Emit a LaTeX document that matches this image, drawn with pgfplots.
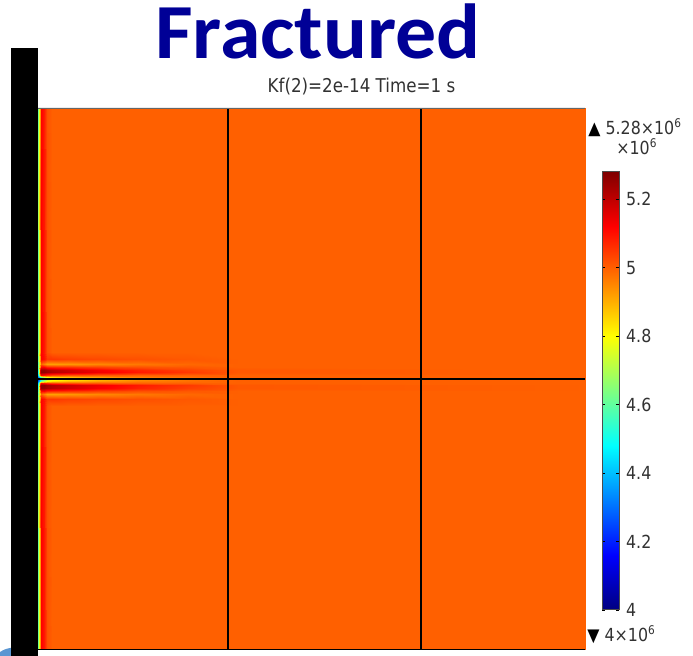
\documentclass[border=0pt]{standalone}
\usepackage{pgfplots}
\pgfplotsset{compat=1.18}
\usepackage{pgfplotstable}
\usepackage{fontspec}
\setmainfont{DejaVu Sans}
\newfontfamily\lblfont{DejaVu Sans}[FakeStretch=0.88]
\newfontfamily\titlefont{Carlito}[FakeStretch=1.05]
\definecolor{titleblue}{RGB}{0,0,150}
\definecolor{lbl}{RGB}{50,50,50}
\begin{document}
\pgfplotstableread{
x y v
0 0.00 4.62
0.01 0.00 4.78
0.02 0.00 4.92
0.035 0.00 5.12
0.06 0.00 5.09
0.09 0.00 5.02
0.14 0.00 5.00
0.30 0.00 5.00
0.60 0.00 5.00
1.00 0.00 5.00
1.50 0.00 5.00
2.00 0.00 5.00
5.47 0.00 5.00
0 2.44 4.62
0.01 2.44 4.78
0.02 2.44 4.92
0.035 2.44 5.12
0.06 2.44 5.09
0.09 2.44 5.02
0.14 2.44 5.00
0.30 2.44 5.00
0.60 2.44 5.00
1.00 2.44 5.00
1.50 2.44 5.00
2.00 2.44 5.00
5.47 2.44 5.00
0 2.51 4.62
0.01 2.51 4.78
0.02 2.51 4.92
0.035 2.51 5.12
0.06 2.51 5.10
0.09 2.51 5.05
0.14 2.51 5.05
0.30 2.51 5.04
0.60 2.51 5.03
1.00 2.51 5.02
1.50 2.51 5.01
2.00 2.51 5.00
5.47 2.51 5.00
0 2.56 4.60
0.01 2.56 4.74
0.02 2.56 4.86
0.035 2.56 5.00
0.06 2.56 4.96
0.09 2.56 4.92
0.14 2.56 4.92
0.30 2.56 4.93
0.60 2.56 4.95
1.00 2.56 4.97
1.50 2.56 4.99
2.00 2.56 5.00
5.47 2.56 5.00
0 2.59 4.60
0.01 2.59 4.76
0.02 2.59 4.95
0.035 2.59 5.12
0.06 2.59 5.12
0.09 2.59 5.08
0.14 2.59 5.07
0.30 2.59 5.06
0.60 2.59 5.04
1.00 2.59 5.02
1.50 2.59 5.01
2.00 2.59 5.00
5.47 2.59 5.00
0 2.62 4.55
0.01 2.62 4.80
0.02 2.62 5.15
0.035 2.62 5.25
0.06 2.62 5.25
0.09 2.62 5.23
0.14 2.62 5.21
0.30 2.62 5.18
0.60 2.62 5.13
1.00 2.62 5.08
1.50 2.62 5.04
2.00 2.62 5.01
5.47 2.62 5.00
0 2.645 4.50
0.01 2.645 4.78
0.02 2.645 5.15
0.035 2.645 5.26
0.06 2.645 5.26
0.09 2.645 5.24
0.14 2.645 5.22
0.30 2.645 5.19
0.60 2.645 5.14
1.00 2.645 5.09
1.50 2.645 5.05
2.00 2.645 5.01
5.47 2.645 5.00
0 2.67 4.45
0.01 2.67 4.70
0.02 2.67 5.00
0.035 2.67 5.12
0.06 2.67 5.10
0.09 2.67 5.07
0.14 2.67 5.04
0.30 2.67 5.02
0.60 2.67 5.01
1.00 2.67 5.00
1.50 2.67 5.00
2.00 2.67 5.00
5.47 2.67 5.00
0 2.69 4.30
0.01 2.69 4.40
0.02 2.69 4.50
0.035 2.69 4.62
0.06 2.69 4.72
0.09 2.69 4.80
0.14 2.69 4.84
0.30 2.69 4.88
0.60 2.69 4.92
1.00 2.69 4.96
1.50 2.69 4.98
2.00 2.69 5.00
5.47 2.69 5.00
0 2.71 4.20
0.01 2.71 4.30
0.02 2.71 4.40
0.035 2.71 4.50
0.06 2.71 4.60
0.09 2.71 4.70
0.14 2.71 4.75
0.30 2.71 4.80
0.60 2.71 4.87
1.00 2.71 4.93
1.50 2.71 4.97
2.00 2.71 5.00
5.47 2.71 5.00
0 2.73 4.30
0.01 2.73 4.40
0.02 2.73 4.50
0.035 2.73 4.62
0.06 2.73 4.72
0.09 2.73 4.80
0.14 2.73 4.84
0.30 2.73 4.88
0.60 2.73 4.92
1.00 2.73 4.96
1.50 2.73 4.98
2.00 2.73 5.00
5.47 2.73 5.00
0 2.75 4.45
0.01 2.75 4.70
0.02 2.75 5.00
0.035 2.75 5.12
0.06 2.75 5.10
0.09 2.75 5.07
0.14 2.75 5.04
0.30 2.75 5.02
0.60 2.75 5.01
1.00 2.75 5.00
1.50 2.75 5.00
2.00 2.75 5.00
5.47 2.75 5.00
0 2.775 4.50
0.01 2.775 4.78
0.02 2.775 5.15
0.035 2.775 5.26
0.06 2.775 5.26
0.09 2.775 5.24
0.14 2.775 5.22
0.30 2.775 5.19
0.60 2.775 5.14
1.00 2.775 5.09
1.50 2.775 5.05
2.00 2.775 5.01
5.47 2.775 5.00
0 2.80 4.55
0.01 2.80 4.80
0.02 2.80 5.15
0.035 2.80 5.25
0.06 2.80 5.25
0.09 2.80 5.23
0.14 2.80 5.21
0.30 2.80 5.18
0.60 2.80 5.13
1.00 2.80 5.08
1.50 2.80 5.04
2.00 2.80 5.01
5.47 2.80 5.00
0 2.83 4.60
0.01 2.83 4.76
0.02 2.83 4.95
0.035 2.83 5.12
0.06 2.83 5.12
0.09 2.83 5.08
0.14 2.83 5.07
0.30 2.83 5.06
0.60 2.83 5.04
1.00 2.83 5.02
1.50 2.83 5.01
2.00 2.83 5.00
5.47 2.83 5.00
0 2.86 4.60
0.01 2.86 4.74
0.02 2.86 4.86
0.035 2.86 5.00
0.06 2.86 4.96
0.09 2.86 4.92
0.14 2.86 4.92
0.30 2.86 4.93
0.60 2.86 4.95
1.00 2.86 4.97
1.50 2.86 4.99
2.00 2.86 5.00
5.47 2.86 5.00
0 2.91 4.62
0.01 2.91 4.78
0.02 2.91 4.92
0.035 2.91 5.12
0.06 2.91 5.10
0.09 2.91 5.05
0.14 2.91 5.05
0.30 2.91 5.04
0.60 2.91 5.03
1.00 2.91 5.02
1.50 2.91 5.01
2.00 2.91 5.00
5.47 2.91 5.00
0 2.98 4.62
0.01 2.98 4.78
0.02 2.98 4.92
0.035 2.98 5.12
0.06 2.98 5.09
0.09 2.98 5.02
0.14 2.98 5.00
0.30 2.98 5.00
0.60 2.98 5.00
1.00 2.98 5.00
1.50 2.98 5.00
2.00 2.98 5.00
5.47 2.98 5.00
0 5.42 4.62
0.01 5.42 4.78
0.02 5.42 4.92
0.035 5.42 5.12
0.06 5.42 5.09
0.09 5.42 5.02
0.14 5.42 5.00
0.30 5.42 5.00
0.60 5.42 5.00
1.00 5.42 5.00
1.50 5.42 5.00
2.00 5.42 5.00
5.47 5.42 5.00
}\fieldtable
\begin{tikzpicture}[x=0.5pt,y=0.5pt]
\useasboundingbox (0,0) rectangle (693,656);
\begin{axis}[
  at={(19pt,3pt)}, anchor=south west,
  scale only axis, width=273.5pt, height=271pt,
  view={0}{90},
  hide axis,
  xmin=0, xmax=5.47, ymin=0, ymax=5.42,
  colormap/jet,
  point meta min=4, point meta max=5.28,
  colorbar,
  colorbar style={
    at={(parent axis.north east)}, anchor=north west,
    xshift=0pt, yshift=-32pt,
    width=8.5pt, height=219pt,
    ytick={4,4.2,4.4,4.6,4.8,5,5.2},
    yticklabels={4,4.2,4.4,4.6,4.8,5,5.2},
    yticklabel style={font=\lblfont\fontsize{9}{10}\selectfont, text=lbl, xshift=0pt},
    tick align=inside, ytick pos=both, yticklabel pos=right,
    major tick length=1.5pt,
    ytick style={black, line width=0.4pt},
    axis line style={draw=black!70, line width=0.5pt},
  },
]
\addplot3[surf, shader=interp, mesh/cols=13] table[x=x, y=y, z=v] {\fieldtable};
\addplot3[black, line width=1pt, mark=none] coordinates {(1.90,0,5.3) (1.90,5.42,5.3)};
\addplot3[black, line width=1pt, mark=none] coordinates {(3.83,0,5.3) (3.83,5.42,5.3)};
\addplot3[black, line width=1pt, mark=none] coordinates {(0,2.71,5.3) (5.47,2.71,5.3)};
\addplot3[black!60, line width=1pt, mark=none] coordinates {(0,5.42,5.3) (5.47,5.42,5.3)};
\addplot3[black, line width=0.6pt, mark=none] coordinates {(0,0,5.3) (5.47,0,5.3)};
\end{axis}
\fill[color={rgb,255:red,90;green,150;blue,210}] (0,0) -- (0,4) .. controls (5,7) .. (15,9) -- (15,0) -- cycle;
\fill[black] (11,0) rectangle (38,608);
\node[anchor=base, inner sep=0pt, text=titleblue] at (318,597) {\titlefont\bfseries\fontsize{39}{42}\selectfont Fractured};
\node[anchor=base, inner sep=0pt, text=lbl] at (361.5,563) {\lblfont\fontsize{9.5}{11}\selectfont Kf(2)=2e-14 Time=1 s};
\node[anchor=base west, inner sep=0pt, text=lbl] at (588,521) {\lblfont\fontsize{9}{10}\selectfont {\color{black}▲} 5.28×10\textsuperscript{6}};
\node[anchor=base west, inner sep=0pt, text=lbl] at (616,501) {\lblfont\fontsize{9}{10}\selectfont ×10\textsuperscript{6}};
\node[anchor=base west, inner sep=0pt, text=lbl] at (587,14) {\lblfont\fontsize{9}{10}\selectfont {\color{black}▼} 4×10\textsuperscript{6}};
\end{tikzpicture}
\end{document}
